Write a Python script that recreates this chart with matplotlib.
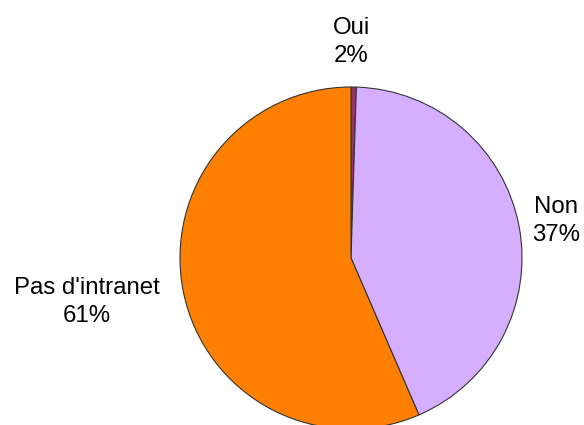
import matplotlib

matplotlib.use("Agg")
import matplotlib.pyplot as plt

# slice sizes as drawn (the printed percentages don't match the geometry exactly)
categories = ["Oui", "Non", "Pas d'intranet"]
shares = [0.5, 43.0, 56.5]
pct_labels = ["2%", "37%", "61%"]
colors = ["#993366", "#D5AEFF", "#FF8000"]

W, H = 584, 425
fig = plt.figure(figsize=(W / 100, H / 100), dpi=100)
ax = fig.add_axes([0, 0, 1, 1])

ax.pie(
    shares,
    colors=colors,
    startangle=90,
    counterclock=False,
    center=(351, H - 258),
    radius=171,
    frame=True,
    wedgeprops=dict(edgecolor="#333333", linewidth=0.8),
)
ax.set_xlim(0, W)
ax.set_ylim(0, H)
ax.set_aspect("equal")
ax.axis("off")

# label anchors in pixel coords (from top-left)
label_pos = [(351, 42), (556, 221), (87, 302)]
for name, pct, (x, y) in zip(categories, pct_labels, label_pos):
    ax.text(x, H - y, f"{name}\n{pct}", ha="center", va="center",
            multialignment="center", fontsize=17.3,
            family=["Liberation Sans", "DejaVu Sans"], linespacing=1.38)

fig.savefig("out.png", dpi=100)
